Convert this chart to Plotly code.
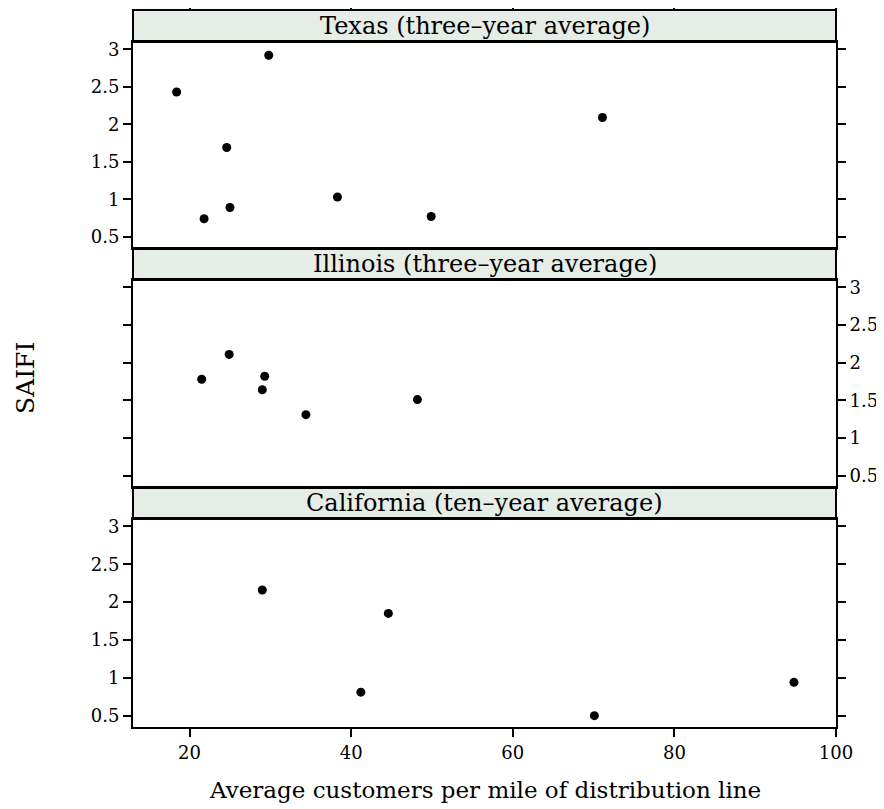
import plotly.graph_objects as go

# page body has an 8px margin, so the figure is sized to fit the window after it
OFF = 8
W, H = 884 - OFF, 809 - OFF

panels = ["Texas (three\u2013year average)", "Illinois (three\u2013year average)", "California (ten\u2013year average)"]

tx_x = [18.4, 29.8, 24.6, 21.8, 25.0, 38.3, 49.9, 71.1]
tx_y = [2.43, 2.92, 1.69, 0.74, 0.89, 1.03, 0.77, 2.09]

il_x = [21.5, 24.9, 29.3, 29.0, 34.4, 48.2]
il_y = [1.78, 2.11, 1.82, 1.64, 1.31, 1.51]

ca_x = [29.0, 44.6, 41.2, 70.1, 94.8]
ca_y = [2.16, 1.85, 0.81, 0.50, 0.94]

x_ticks = [20, 40, 60, 80, 100]
y_ticks = [0.5, 1, 1.5, 2, 2.5, 3]
y_tick_text = ["0.5", "1", "1.5", "2", "2.5", "3"]

xr = [13.0, 100.0]
yr = [0.35, 3.097]

FONT = "DejaVu Serif"
STRIP_FILL = "#E6EDE7"

def py(y):
    return 1 - (y - OFF) / H

def pxx(x):
    return (x - OFF) / W

rows = [
    {"strip": (10, 42), "plot": (42, 248)},
    {"strip": (248, 280), "plot": (280, 487)},
    {"strip": (487, 519), "plot": (519, 727)},
]
x_dom = [pxx(133), pxx(836)]

fig = go.Figure()
data = [(tx_x, tx_y), (il_x, il_y), (ca_x, ca_y)]
for i, (xs, ys) in enumerate(data):
    k = "" if i == 0 else str(i + 1)
    fig.add_trace(go.Scatter(x=xs, y=ys, mode="markers",
                             marker=dict(color="black", size=9),
                             xaxis="x" + k, yaxis="y" + k, showlegend=False,
                             hoverinfo="x+y"))

layout = dict(width=W, height=H, margin=dict(l=0, r=0, t=0, b=0, autoexpand=False),
              paper_bgcolor="white", plot_bgcolor="white", showlegend=False,
              font=dict(family=FONT, size=18, color="black"))

tickfont = dict(family=FONT, size=18, color="black")
for i, r in enumerate(rows):
    k = "" if i == 0 else str(i + 1)
    top, bot = r["plot"]
    ydom = [py(bot), py(top)]
    is_bottom = (i == 2)
    xa = dict(domain=x_dom, range=xr, anchor="y" + k, showgrid=False, zeroline=False,
              automargin=False,
              showline=True, linecolor="black", linewidth=2, mirror=True,
              tickvals=x_ticks, ticktext=[str(v) for v in x_ticks],
              ticks="outside" if is_bottom else "", ticklen=8, tickwidth=1.5,
              tickcolor="black", showticklabels=is_bottom, tickfont=tickfont)
    ya = dict(domain=ydom, range=yr, anchor="x" + k, showgrid=False, zeroline=False,
              automargin=False,
              showline=True, linecolor="black", linewidth=2, mirror="ticks",
              tickvals=y_ticks, ticktext=y_tick_text, ticks="outside", ticklen=8,
              tickwidth=1.5, tickcolor="black", tickfont=tickfont,
              side="right" if i == 1 else "left")
    layout["xaxis" + k] = xa
    layout["yaxis" + k] = ya

layout["xaxis4"] = dict(domain=x_dom, range=xr, anchor="free", position=py(10),
                        overlaying="x", side="top", showgrid=False, zeroline=False,
                        automargin=False,
                        showline=False, tickvals=x_ticks, ticks="outside", ticklen=8,
                        tickwidth=1.5, tickcolor="black", showticklabels=False)

fig.update_layout(**layout)
fig.add_trace(go.Scatter(x=[xr[0]], y=[yr[0]], xaxis="x4", yaxis="y", mode="markers",
                         marker=dict(opacity=0), hoverinfo="skip", showlegend=False))

shapes = []
annotations = []
for i, r in enumerate(rows):
    st, sb = r["strip"]
    shapes.append(dict(type="rect", xref="paper", yref="paper",
                       x0=x_dom[0], x1=x_dom[1], y0=py(sb), y1=py(st),
                       fillcolor=STRIP_FILL, line=dict(color="black", width=2),
                       layer="below"))
    annotations.append(dict(text=panels[i], xref="paper", yref="paper",
                            x=(x_dom[0] + x_dom[1]) / 2, y=py((st + sb) / 2),
                            xanchor="center", yanchor="middle", showarrow=False,
                            font=dict(family=FONT, size=24, color="black")))

annotations.append(dict(text="Average customers per mile of distribution line",
                        xref="paper", yref="paper", x=(x_dom[0] + x_dom[1]) / 2, y=py(790),
                        xanchor="center", yanchor="middle", showarrow=False,
                        font=dict(family=FONT, size=23, color="black")))
annotations.append(dict(text="SAIFI", xref="paper", yref="paper", x=pxx(25), y=py(378),
                        xanchor="center", yanchor="middle", showarrow=False, textangle=-90,
                        font=dict(family=FONT, size=25, color="black")))

fig.update_layout(shapes=shapes, annotations=annotations)
fig.write_html("out.html")
